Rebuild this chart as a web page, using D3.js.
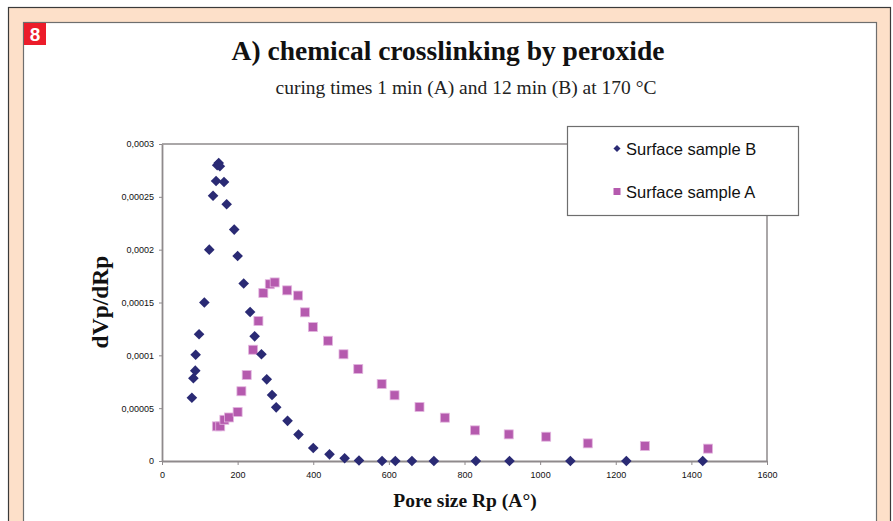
<!DOCTYPE html>
<html>
<head>
<meta charset="utf-8">
<script src="https://cdn.jsdelivr.net/npm/d3@7"></script>
<style>
  body { margin: 0; background: #fff; }
  svg { display: block; }
</style>
</head>
<body>
<div id="chart"></div>
<script>
// Surface sample B (diamonds): pore size Rp, dVp/dRp
const sampleB = [
  [79, 0.0000599], [83, 0.0000783], [88, 0.0000855], [89, 0.0001006], [98, 0.000120],
  [112, 0.000150], [125, 0.000200], [135, 0.000251], [143, 0.000265], [146, 0.000280],
  [150, 0.000282], [153, 0.000279], [164, 0.000264], [171, 0.000243], [191, 0.000219],
  [200, 0.000194], [216, 0.000168], [233, 0.000141], [245, 0.000118], [263, 0.000101],
  [277, 0.0000773], [291, 0.0000625], [302, 0.0000508], [332, 0.0000380], [361, 0.0000250],
  [400, 0.0000123], [443, 0.0000063], [483, 0.0000026], [521, 0.0000005], [582, 0],
  [617, 0], [661, 0], [719, 0], [830, 0], [919, 0], [1080, 0], [1228, 0], [1430, 0]
];

// Surface sample A (squares)
const sampleA = [
  [145, 0.0000328], [154, 0.0000328], [165, 0.000039], [177, 0.0000412], [200, 0.0000464],
  [210, 0.000066], [224, 0.0000814], [241, 0.0001053], [255, 0.0001325], [268, 0.000159],
  [285, 0.0001673], [298, 0.000169], [331, 0.0001615], [360, 0.0001566], [378, 0.0001407],
  [399, 0.0001268], [439, 0.0001138], [480, 0.000101], [519, 0.0000871], [581, 0.0000729],
  [615, 0.0000622], [681, 0.0000511], [748, 0.000041], [828, 0.000029], [917, 0.0000252],
  [1016, 0.000023], [1126, 0.0000167], [1277, 0.0000142], [1444, 0.0000117]
];

const xTicks = [0, 200, 400, 600, 800, 1000, 1200, 1400, 1600];
const yTicks = [0, 0.00005, 0.0001, 0.00015, 0.0002, 0.00025, 0.0003];
const yTickLabels = ['0', '0,00005', '0,0001', '0,00015', '0,0002', '0,00025', '0,0003'];
const legendItems = ['Surface sample B', 'Surface sample A'];

const W = 893, H = 521;
const navy = '#2a2a74';
const pink = '#b55aae';

const svg = d3.select('#chart').append('svg')
  .attr('width', W)
  .attr('height', H);

// frame: peach band with dark outer line, white inner panel
svg.append('rect')
  .attr('x', 8.5).attr('y', 7.5)
  .attr('width', 882).attr('height', 530)
  .attr('fill', '#fde0c9')
  .attr('stroke', '#3a3a3a').attr('stroke-width', 1.2);
svg.append('rect')
  .attr('x', 23.5).attr('y', 22.5)
  .attr('width', 853).attr('height', 520)
  .attr('fill', '#fff')
  .attr('stroke', '#6e6e6e').attr('stroke-width', 1.2);

// figure badge
svg.append('rect')
  .attr('x', 24).attr('y', 23)
  .attr('width', 22).attr('height', 22)
  .attr('fill', '#ec1c2a');
svg.append('text')
  .attr('x', 35).attr('y', 41)
  .attr('text-anchor', 'middle')
  .attr('font-family', 'Liberation Sans, Arial, sans-serif')
  .attr('font-weight', 'bold')
  .attr('font-size', 19)
  .attr('fill', '#fff')
  .text('8');

// titles
svg.append('text')
  .attr('x', 448).attr('y', 60)
  .attr('text-anchor', 'middle')
  .attr('font-family', 'Liberation Serif, Times New Roman, serif')
  .attr('font-weight', 'bold')
  .attr('font-size', 27.5)
  .attr('fill', '#111')
  .text('A) chemical crosslinking by peroxide');
svg.append('text')
  .attr('x', 466).attr('y', 94)
  .attr('text-anchor', 'middle')
  .attr('font-family', 'Liberation Serif, Times New Roman, serif')
  .attr('font-size', 19.5)
  .attr('fill', '#222')
  .text('curing times 1 min (A) and 12 min (B) at 170 °C');

// scales
const x = d3.scaleLinear().domain([0, 1600]).range([162, 767]);
const y = d3.scaleLinear().domain([0, 0.0003]).range([461, 144]);

// plot area border (top and right)
svg.append('path')
  .attr('d', `M${x(0)},${y(0.0003)}H${x(1600)}V${y(0)}`)
  .attr('fill', 'none')
  .attr('stroke', '#8f8a8c')
  .attr('stroke-width', 1.5);

const tickFont = 'Liberation Sans, Arial, sans-serif';

// x axis
const xAxis = svg.append('g')
  .attr('transform', `translate(0,${y(0)})`)
  .call(d3.axisBottom(x).tickValues(xTicks).tickFormat(d3.format('d'))
    .tickSize(4).tickSizeOuter(0).tickPadding(7));
xAxis.select('.domain').attr('stroke', '#8f8a8c').attr('stroke-width', 1.8);
xAxis.selectAll('.tick line').attr('stroke', '#8f8a8c');
xAxis.selectAll('.tick text')
  .attr('font-family', tickFont).attr('font-size', 9).attr('fill', '#111');

// y axis
const yAxis = svg.append('g')
  .attr('transform', `translate(${x(0)},0)`)
  .call(d3.axisLeft(y).tickValues(yTicks).tickSize(3).tickSizeOuter(0).tickPadding(5)
    .tickFormat((d, i) => yTickLabels[i]));
yAxis.select('.domain').attr('stroke', '#8f8a8c').attr('stroke-width', 1.8);
yAxis.selectAll('.tick line').attr('stroke', '#8f8a8c');
yAxis.selectAll('.tick text')
  .attr('font-family', tickFont).attr('font-size', 9).attr('fill', '#111');

// axis titles
svg.append('text')
  .attr('x', 465).attr('y', 507)
  .attr('text-anchor', 'middle')
  .attr('font-family', 'Liberation Serif, Times New Roman, serif')
  .attr('font-weight', 'bold')
  .attr('font-size', 19.5)
  .attr('fill', '#111')
  .text('Pore size Rp (A°)');
svg.append('text')
  .attr('transform', 'translate(108,302) rotate(-90)')
  .attr('text-anchor', 'middle')
  .attr('font-family', 'Liberation Serif, Times New Roman, serif')
  .attr('font-weight', 'bold')
  .attr('font-size', 23.5)
  .attr('fill', '#111')
  .text('dVp/dRp');

// markers
const diamond = d3.symbol().type(d3.symbolDiamond2).size(72);

svg.append('g')
  .selectAll('rect')
  .data(sampleA)
  .join('rect')
  .attr('x', d => x(d[0]) - 4.5)
  .attr('y', d => y(d[1]) - 4.5)
  .attr('width', 9).attr('height', 9)
  .attr('fill', pink)
  .attr('stroke', '#e3b6df').attr('stroke-width', 0.8);

svg.append('g')
  .selectAll('path')
  .data(sampleB)
  .join('path')
  .attr('transform', d => `translate(${x(d[0])},${y(d[1])})`)
  .attr('d', diamond)
  .attr('fill', navy);

// legend
const legend = svg.append('g');
legend.append('rect')
  .attr('x', 567.5).attr('y', 126.5)
  .attr('width', 231).attr('height', 89)
  .attr('fill', '#fff')
  .attr('stroke', '#6e6e6e').attr('stroke-width', 1.2);
legendItems.forEach((name, i) => {
  const ly = 148.5 + i * 43;
  if (i === 0) {
    legend.append('path')
      .attr('transform', `translate(617,${ly})`)
      .attr('d', d3.symbol().type(d3.symbolDiamond2).size(32))
      .attr('fill', navy);
  } else {
    legend.append('rect')
      .attr('x', 613.5).attr('y', ly - 3.5)
      .attr('width', 7).attr('height', 7)
      .attr('fill', pink);
  }
  legend.append('text')
    .attr('x', 626).attr('y', ly + 6)
    .attr('font-family', tickFont)
    .attr('font-size', 16.5)
    .attr('fill', '#111')
    .text(name);
});
</script>
</body>
</html>
